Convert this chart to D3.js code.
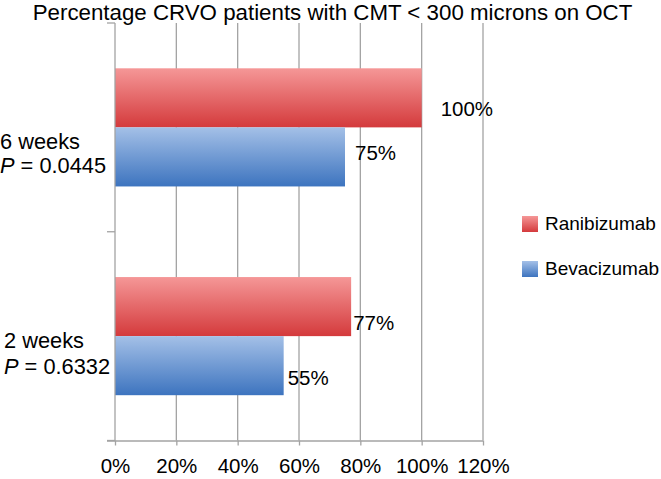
<!DOCTYPE html>
<html>
<head>
<meta charset="utf-8">
<script src="https://cdn.jsdelivr.net/npm/d3@7"></script>
<style>
  html, body { margin: 0; padding: 0; background: #ffffff; }
  svg { display: block; font-family: "Liberation Sans", Arial, sans-serif; }
</style>
</head>
<body>
<svg id="chart" width="661" height="479"></svg>
<script>
// ---- Data ----
const categories = ["6 weeks", "2 weeks"];
const pValues = ["0.0445", "0.6332"];
const seriesNames = ["Ranibizumab", "Bevacizumab"];
const ranibizumab = [100, 77];
const bevacizumab = [75, 55];
const xTicks = [0, 20, 40, 60, 80, 100, 120];
const titleText = "Percentage CRVO patients with CMT < 300 microns on OCT";

// ---- Layout tweaks (label nudges, px) ----
const labelNudge = {
  "6 weeks": { Ranibizumab: [19, 18], Bevacizumab: [10, 3] },
  "2 weeks": { Ranibizumab: [2, 23.5], Bevacizumab: [4, 19] }
};
const catLabelNudge = { "6 weeks": [0, 21.5, 45.5], "2 weeks": [4, 12, 38] };

const svg = d3.select("#chart");
const colors = {
  Ranibizumab: ["#f59797", "#d43a3c"],
  Bevacizumab: ["#a4c0e7", "#3d74bf"]
};

const defs = svg.append("defs");
seriesNames.forEach((s, i) => {
  const g = defs.append("linearGradient").attr("id", "grad" + i)
    .attr("x1", 0).attr("y1", 0).attr("x2", 0).attr("y2", 1);
  g.append("stop").attr("offset", "0%").attr("stop-color", colors[s][0]);
  g.append("stop").attr("offset", "100%").attr("stop-color", colors[s][1]);
});

const x = d3.scaleLinear().domain([0, 120]).range([115, 483]);
const y0 = d3.scaleBand().domain(categories).range([23, 440.5]).padding(0);
const y1 = d3.scaleBand().domain(seriesNames).range([0, y0.bandwidth()])
  .paddingInner(0).paddingOuter(0.767);

const values = { Ranibizumab: ranibizumab, Bevacizumab: bevacizumab };
const rows = [];
categories.forEach((c, ci) => {
  seriesNames.forEach((s, si) => rows.push({ cat: c, ser: s, si, v: values[s][ci] }));
});

// Title
svg.append("text").attr("x", 332.5).attr("y", 19.5).attr("text-anchor", "middle")
  .attr("font-size", 22.3).attr("fill", "#000").text(titleText);

// Gridlines
const gridColor = "#a3a3a3";
svg.append("g").selectAll("line").data(xTicks.slice(1)).join("line")
  .attr("x1", d => x(d)).attr("x2", d => x(d))
  .attr("y1", y0.range()[0]).attr("y2", y0.range()[1])
  .attr("stroke", gridColor).attr("stroke-width", 1.3);

// Bars
svg.append("g").selectAll("rect").data(rows).join("rect")
  .attr("x", x(0))
  .attr("y", d => y0(d.cat) + y1(d.ser))
  .attr("width", d => x(d.v) - x(0))
  .attr("height", y1.bandwidth())
  .attr("fill", d => "url(#grad" + d.si + ")");

// X axis
const xAxis = d3.axisBottom(x).tickValues(xTicks).tickFormat(d => d + "%")
  .tickSize(5).tickPadding(13);
const gx = svg.append("g").attr("transform", `translate(0,${y0.range()[1]})`).call(xAxis);
gx.select(".domain").attr("stroke", gridColor).attr("stroke-width", 1.3)
  .attr("d", `M${x(0) - 8},0.5H${x(120)}`);
gx.selectAll(".tick line").attr("stroke", gridColor).attr("stroke-width", 1.3);
gx.selectAll(".tick text").attr("font-size", 20.5).attr("fill", "#000")
  .attr("font-family", "'Liberation Sans', Arial, sans-serif");

// Y axis line with category separator ticks
const yEdges = [y0.range()[0], ...categories.slice(1).map(c => y0(c)), y0.range()[1]];
svg.append("line").attr("x1", x(0)).attr("x2", x(0))
  .attr("y1", y0.range()[0]).attr("y2", y0.range()[1])
  .attr("stroke", gridColor).attr("stroke-width", 1.3);
svg.append("g").selectAll("line").data(yEdges).join("line")
  .attr("x1", x(0) - 8).attr("x2", x(0))
  .attr("y1", d => d).attr("y2", d => d)
  .attr("stroke", gridColor).attr("stroke-width", 1.3);

// Category labels
categories.forEach((c, ci) => {
  const cy = y0(c) + y0.bandwidth() / 2;
  const n = catLabelNudge[c];
  svg.append("text").attr("x", n[0]).attr("y", cy + n[1])
    .attr("font-size", 21.8).attr("fill", "#000").text(c);
  const t = svg.append("text").attr("x", n[0]).attr("y", cy + n[2])
    .attr("font-size", 21.8).attr("fill", "#000");
  t.append("tspan").attr("font-style", "italic").text("P");
  t.append("tspan").text(" = " + pValues[ci]);
});

// Data labels
svg.append("g").selectAll("text").data(rows).join("text")
  .attr("x", d => x(d.v) + labelNudge[d.cat][d.ser][0])
  .attr("y", d => y0(d.cat) + y1(d.ser) + y1.bandwidth() / 2 + labelNudge[d.cat][d.ser][1])
  .attr("font-size", 20.5).attr("fill", "#000")
  .text(d => d.v + "%");

// Legend
const leg = svg.append("g");
seriesNames.forEach((s, i) => {
  const ly = 216 + i * 45;
  leg.append("rect").attr("x", 522).attr("y", ly).attr("width", 16).attr("height", 16)
    .attr("fill", "url(#grad" + i + ")");
  leg.append("text").attr("x", 545).attr("y", ly + 14)
    .attr("font-size", 19).attr("fill", "#000").text(s);
});
</script>
</body>
</html>
